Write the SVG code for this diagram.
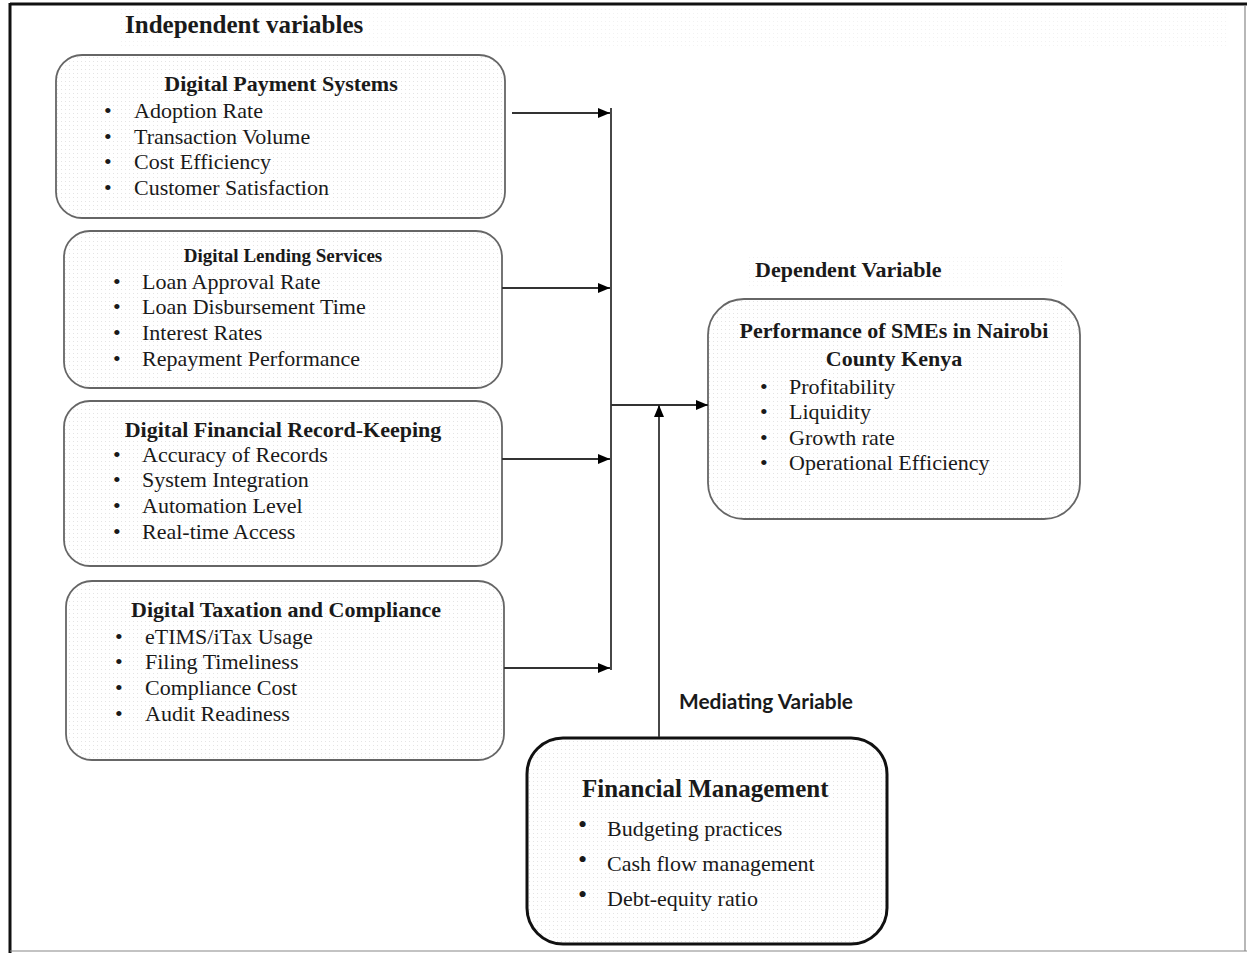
<svg xmlns="http://www.w3.org/2000/svg" width="1247" height="953" viewBox="0 0 1247 953">
<defs>
<pattern id="dots" width="4" height="4" patternUnits="userSpaceOnUse">
<rect width="4" height="4" fill="#ffffff"/>
<rect x="1" y="1" width="1" height="1" fill="#e4e4e4"/>
</pattern>
<marker id="ah" viewBox="0 0 12 10" refX="12" refY="5" markerWidth="12" markerHeight="10" markerUnits="userSpaceOnUse" orient="auto">
<path d="M0,0 L12,5 L0,10 z" fill="#000"/>
</marker>
<style>
.box{fill:url(#dots);stroke:#666;stroke-width:1.8}
.boxk{fill:url(#dots);stroke:#111;stroke-width:3}
.t{font-family:"Liberation Serif","Times New Roman",serif;fill:#1a1a1a}
.b{font-weight:bold;font-size:22px}
.i{font-size:22px}
.c{stroke:#333;stroke-width:1.8;fill:none}
.s{font-family:Lato,"Open Sans",sans-serif;font-weight:bold;fill:#1a1a1a}
</style>
</defs>
<rect width="1247" height="953" fill="#fff"/>
<g id="frame">
<line x1="10" y1="4" x2="1247" y2="4" stroke="#111" stroke-width="3"/>
<line x1="10" y1="3" x2="10" y2="953" stroke="#111" stroke-width="3"/>
<line x1="1245" y1="5" x2="1245" y2="951" stroke="#888" stroke-width="1.2"/>
<line x1="10" y1="951" x2="1247" y2="951" stroke="#888" stroke-width="1.2"/>
</g>
<g id="label-independent">
<rect x="118" y="8" width="1110" height="40" fill="url(#dots)" opacity="0.5"/>
<text class="t" x="125" y="33" font-size="25" font-weight="bold">Independent variables</text>
</g>
<g id="node-payment">
<rect class="box" x="56" y="55" width="449" height="163" rx="26"/>
<text class="t b" x="281" y="91" text-anchor="middle">Digital Payment Systems</text>
<g class="t i">
<text x="104" y="118">•</text><text x="134" y="118">Adoption Rate</text>
<text x="104" y="144">•</text><text x="134" y="144">Transaction Volume</text>
<text x="104" y="169">•</text><text x="134" y="169">Cost Efficiency</text>
<text x="104" y="195">•</text><text x="134" y="195">Customer Satisfaction</text>
</g>
</g>
<g id="node-lending">
<rect class="box" x="64" y="231" width="438" height="157" rx="26"/>
<text class="t" x="283" y="262" text-anchor="middle" font-size="19" font-weight="bold">Digital Lending Services</text>
<g class="t i">
<text x="113" y="289">•</text><text x="142" y="289">Loan Approval Rate</text>
<text x="113" y="314">•</text><text x="142" y="314">Loan Disbursement Time</text>
<text x="113" y="340">•</text><text x="142" y="340">Interest Rates</text>
<text x="113" y="366">•</text><text x="142" y="366">Repayment Performance</text>
</g>
</g>
<g id="node-record">
<rect class="box" x="64" y="401" width="438" height="165" rx="26"/>
<text class="t b" x="283" y="437" text-anchor="middle">Digital Financial Record-Keeping</text>
<g class="t i">
<text x="113" y="462">•</text><text x="142" y="462">Accuracy of Records</text>
<text x="113" y="487">•</text><text x="142" y="487">System Integration</text>
<text x="113" y="513">•</text><text x="142" y="513">Automation Level</text>
<text x="113" y="539">•</text><text x="142" y="539">Real-time Access</text>
</g>
</g>
<g id="node-taxation">
<rect class="box" x="66" y="581" width="438" height="179" rx="26"/>
<text class="t b" x="286" y="617" text-anchor="middle">Digital Taxation and Compliance</text>
<g class="t i">
<text x="115" y="644">•</text><text x="145" y="644">eTIMS/iTax Usage</text>
<text x="115" y="669">•</text><text x="145" y="669">Filing Timeliness</text>
<text x="115" y="695">•</text><text x="145" y="695">Compliance Cost</text>
<text x="115" y="721">•</text><text x="145" y="721">Audit Readiness</text>
</g>
</g>
<g id="label-dependent">
<rect x="748" y="254" width="316" height="34" fill="url(#dots)" opacity="0.5"/>
<text class="t b" x="755" y="277">Dependent Variable</text>
</g>
<g id="node-performance">
<rect class="box" x="708" y="299" width="372" height="220" rx="36"/>
<text class="t b" x="894" y="338" text-anchor="middle">Performance of SMEs in Nairobi</text>
<text class="t b" x="894" y="366" text-anchor="middle">County Kenya</text>
<g class="t i">
<text x="760" y="394">•</text><text x="789" y="394">Profitability</text>
<text x="760" y="419">•</text><text x="789" y="419">Liquidity</text>
<text x="760" y="445">•</text><text x="789" y="445">Growth rate</text>
<text x="760" y="470">•</text><text x="789" y="470">Operational Efficiency</text>
</g>
</g>
<g id="label-mediating">
<text class="s" x="679" y="709" font-size="20" textLength="174" lengthAdjust="spacingAndGlyphs">Mediating Variable</text>
</g>
<g id="node-financial">
<rect class="boxk" x="527" y="738" width="360" height="206" rx="36"/>
<text class="t" x="582" y="797" font-size="25" font-weight="bold">Financial Management</text>
<g class="t i">
<text x="578" y="833" font-size="26">•</text><text x="607" y="836">Budgeting practices</text>
<text x="578" y="868" font-size="26">•</text><text x="607" y="871">Cash flow management</text>
<text x="578" y="903" font-size="26">•</text><text x="607" y="906">Debt-equity ratio</text>
</g>
</g>
<g id="connectors">
<line class="c" x1="512" y1="113" x2="610" y2="113" marker-end="url(#ah)"/>
<line class="c" x1="502" y1="288" x2="610" y2="288" marker-end="url(#ah)"/>
<line class="c" x1="502" y1="459" x2="610" y2="459" marker-end="url(#ah)"/>
<line class="c" x1="504" y1="668" x2="610" y2="668" marker-end="url(#ah)"/>
<line class="c" x1="611" y1="108" x2="611" y2="670"/>
<line class="c" x1="611" y1="405" x2="708" y2="405" marker-end="url(#ah)"/>
<line class="c" x1="659" y1="737" x2="659" y2="405" marker-end="url(#ah)"/>
</g>
</svg>
